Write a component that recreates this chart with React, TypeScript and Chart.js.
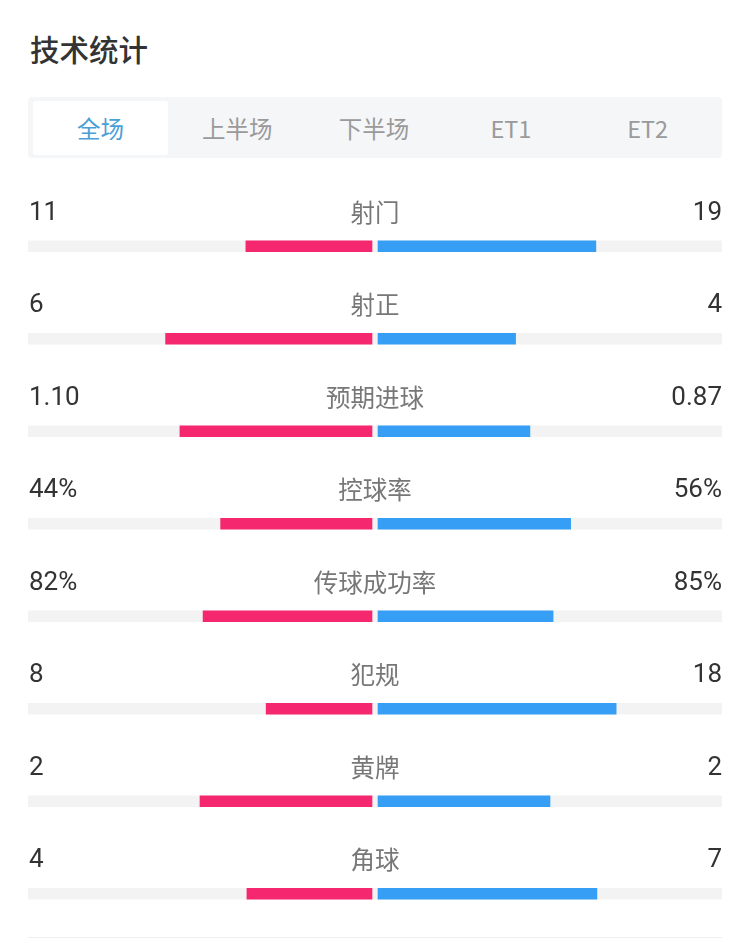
import React, { useEffect, useRef } from "react";
import { Chart, registerables } from "chart.js";

Chart.register(...registerables);

const title = "技术统计";
const tabs = ["全场", "上半场", "下半场", "ET1", "ET2"];
const categories = ["射门", "射正", "预期进球", "控球率", "传球成功率", "犯规", "黄牌", "角球"];
const homeValues = [11, 6, 1.1, 44, 82, 8, 2, 4];
const awayValues = [19, 4, 0.87, 56, 85, 18, 2, 7];
const homeLabels = ["11", "6", "1.10", "44%", "82%", "8", "2", "4"];
const awayLabels = ["19", "4", "0.87", "56%", "85%", "18", "2", "7"];

const GAP = 3 / 344;
const RANGE = 1 + GAP;
const PINK = "#F5286F";
const BLUE = "#369FF5";
const CJK = '"Noto Sans CJK SC", "Noto Sans", sans-serif';
const NUM = 'Roboto, "Noto Sans", sans-serif';

export default function App() {
  const ref = useRef<HTMLCanvasElement | null>(null);

  useEffect(() => {
    if (!ref.current) return;
    const homeShare = homeValues.map((v, i) => v / (v + awayValues[i]));
    const awayShare = awayValues.map((v, i) => v / (homeValues[i] + v));

    const textPlugin = {
      id: "rowText",
      afterDatasetsDraw(chart: any) {
        const { ctx, scales, chartArea } = chart;
        const y = scales.y;
        const x = scales.x;
        ctx.save();
        ctx.textBaseline = "middle";
        categories.forEach((c, i) => {
          const py = y.getPixelForValue(i) - 33;
          ctx.fillStyle = "#333333";
          ctx.font = `26px ${NUM}`;
          ctx.textAlign = "left";
          ctx.fillText(homeLabels[i], chartArea.left + 1, py);
          ctx.textAlign = "right";
          ctx.fillText(awayLabels[i], chartArea.right, py);
          ctx.fillStyle = "#777777";
          ctx.font = `24.5px ${CJK}`;
          ctx.textAlign = "center";
          ctx.fillText(c, x.getPixelForValue(0), py - 1);
        });
        ctx.restore();
      },
    };

    const chart = new Chart(ref.current, {
      type: "bar",
      data: {
        labels: categories,
        datasets: [
          {
            label: "track",
            data: categories.map(() => [-RANGE, RANGE]) as any,
            backgroundColor: "#F3F3F3",
            order: 3,
            grouped: false,
            barThickness: 11,
          },
          {
            label: "home",
            data: homeShare.map((s) => [-(GAP + s), -GAP]) as any,
            backgroundColor: PINK,
            order: 1,
            grouped: false,
            barThickness: 11,
          },
          {
            label: "away",
            data: awayShare.map((s) => [GAP, GAP + s]) as any,
            backgroundColor: BLUE,
            order: 1,
            grouped: false,
            barThickness: 11,
          },
        ],
      },
      options: {
        indexAxis: "y",
        responsive: false,
        animation: false,
        devicePixelRatio: 1,
        layout: { padding: { left: 28, right: 28, top: 0, bottom: 0 } },
        scales: {
          x: { display: false, min: -RANGE, max: RANGE },
          y: { display: false, offset: true },
        },
        plugins: { legend: { display: false }, tooltip: { enabled: false } },
      },
      plugins: [textPlugin],
    });
    return () => chart.destroy();
  }, []);

  return (
    <div style={{ position: "fixed", left: 0, top: 0, width: 750, height: 945, background: "#fff", overflow: "hidden" }}>
      <div
        style={{
          position: "absolute",
          left: 30,
          top: 29,
          fontFamily: CJK,
          fontSize: 29.5,
          fontWeight: 500,
          color: "#333",
          lineHeight: "38px",
        }}
      >
        {title}
      </div>
      <div
        style={{
          position: "absolute",
          left: 28,
          top: 97,
          width: 694,
          height: 61,
          background: "#F5F6F8",
          borderRadius: 4,
        }}
      >
        {tabs.map((t, i) => (
          <div
            key={t}
            style={{
              position: "absolute",
              left: 5 + i * 136.8,
              top: 4,
              width: 135,
              height: 54,
              background: i === 0 ? "#FFFFFF" : "transparent",
              borderRadius: 3,
              display: "flex",
              alignItems: "center",
              justifyContent: "center",
              fontFamily: CJK,
              fontSize: 23.5,
              color: i === 0 ? "#4A9FD6" : "#9A9A9A",
            }}
          >
            {t}
          </div>
        ))}
      </div>
      <canvas
        ref={ref}
        width={750}
        height={740}
        style={{ position: "absolute", left: 0, top: 200, width: 750, height: 740 }}
      />
      <div style={{ position: "absolute", left: 28, top: 937, width: 694, height: 1, background: "#EEEEEE" }} />
    </div>
  );
}
